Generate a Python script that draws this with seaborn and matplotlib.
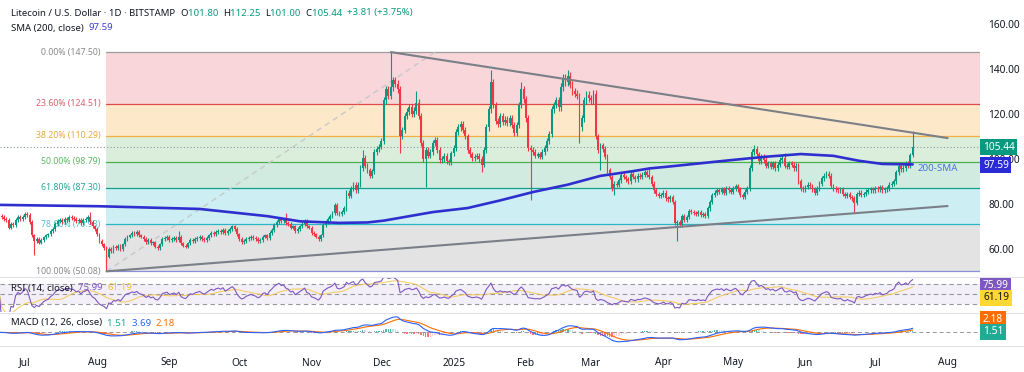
import numpy as np
import pandas as pd
import matplotlib
matplotlib.use("Agg")
import matplotlib.pyplot as plt
import seaborn as sns

sns.set_style("white")
plt.rcParams['font.family'] = ['Noto Sans', 'DejaVu Sans']

BASE = pd.Timestamp("2024-07-01")
DARK = "#131722"
UP = "#089981"
DOWN = "#f23645"

# daily closes, one list per month
jun24 = [74.5, 74.0, 73.5, 72.8, 69.5, 71.0, 70.6, 73.0, 74.0, 73.5, 74.2]
jul24 = [75.5, 75.0, 72.0, 66.0, 63.5, 64.5, 62.8, 64.0, 65.2, 66.0,
         66.5, 68.0, 69.0, 71.0, 72.5, 72.8, 72.0, 73.5, 73.0, 74.0,
         73.8, 73.5, 72.5, 73.0, 71.5, 72.8, 73.2, 74.0, 72.0, 70.0, 69.0]
aug24 = [66.5, 63.5, 62.0, 60.5, 56.5, 60.0, 59.0, 61.0, 60.5, 61.5,
         60.0, 62.0, 64.5, 65.5, 66.0, 67.0, 66.5, 67.5, 66.0, 65.5,
         64.5, 63.0, 64.0, 62.5, 63.0, 61.0, 60.5, 62.0, 64.5, 65.0, 65.5]
sep24 = [64.0, 64.5, 65.0, 64.0, 65.5, 62.5, 61.5, 61.0, 62.5, 64.0,
         63.5, 64.5, 65.0, 65.5, 64.5, 64.0, 65.0, 66.0, 67.0, 66.5,
         67.5, 68.0, 67.5, 68.5, 67.0, 68.0, 69.0, 70.0, 69.0, 66.5]
oct24 = [64.5, 63.0, 63.5, 64.5, 65.0, 65.5, 65.0, 64.5, 63.5, 64.0,
         65.5, 66.0, 65.0, 67.0, 68.5, 70.5, 72.0, 73.5, 72.5, 73.0,
         71.5, 71.0, 69.5, 70.0, 68.0, 69.0, 70.0, 71.0, 72.5, 70.0, 69.5]
nov24 = [67.0, 66.5, 65.5, 64.5, 66.0, 70.5, 72.0, 73.5, 74.5, 76.0,
         79.5, 76.0, 75.5, 76.5, 78.0, 85.0, 83.5, 87.0, 88.5, 86.0,
         88.5, 96.0, 100.5, 97.0, 95.0, 92.5, 94.5, 103.0, 104.5, 105.5]
dec24 = [108.0, 126.0, 131.0, 128.0, 132.0, 135.0, 133.5, 131.0, 110.0, 113.0,
         119.0, 121.0, 123.0, 120.0, 121.5, 125.0, 119.0, 107.0, 100.0, 104.0,
         101.5, 103.0, 107.0, 108.5, 104.0, 99.5, 100.0, 101.5, 99.0, 98.5, 102.5]
jan25 = [105.0, 112.0, 114.0, 115.5, 113.0, 110.0, 104.0, 102.0, 100.5, 101.0,
         101.5, 100.0, 97.5, 104.0, 114.0, 122.0, 134.0, 124.0, 117.0, 115.5,
         119.0, 116.5, 117.5, 116.0, 118.0, 115.0, 111.5, 115.0, 124.0, 131.0, 126.5]
feb25 = [118.0, 105.0, 104.0, 103.0, 101.5, 102.0, 101.0, 103.0, 105.0, 108.0,
         111.0, 122.0, 124.0, 126.0, 123.0, 132.0, 136.0, 134.0, 137.0, 133.0,
         130.0, 129.0, 128.0, 114.0, 118.0, 126.0, 128.5, 127.0]
mar25 = [126.0, 129.0, 110.0, 104.0, 106.0, 104.5, 101.0, 95.0, 92.0, 87.0,
         89.0, 88.5, 90.5, 93.0, 92.0, 91.0, 90.0, 93.5, 92.0, 91.0,
         92.5, 92.0, 93.0, 94.0, 93.0, 92.0, 89.0, 86.0, 84.5, 83.5, 84.0]
apr25 = [85.0, 82.5, 82.0, 83.0, 81.0, 71.5, 72.0, 70.5, 74.5, 73.0,
         74.0, 77.0, 76.5, 76.0, 75.5, 76.5, 75.0, 75.5, 74.5, 78.0,
         81.0, 84.0, 85.0, 86.0, 85.5, 86.5, 85.0, 87.0, 86.0, 85.5]
may25 = [87.0, 88.0, 86.5, 84.0, 83.0, 85.5, 87.0, 96.0, 103.0, 104.5,
         102.0, 99.0, 101.0, 99.5, 97.0, 98.0, 96.5, 98.0, 96.0, 97.5,
         99.5, 100.5, 97.0, 96.5, 98.0, 97.5, 96.0, 97.0, 90.0, 87.0, 86.5]
jun25 = [87.5, 88.5, 88.0, 86.5, 85.0, 87.0, 89.0, 91.5, 92.5, 93.5,
         92.5, 88.0, 87.0, 86.5, 86.0, 86.5, 84.5, 83.5, 84.5, 83.0,
         82.5, 80.5, 84.5, 85.0, 84.0, 84.5, 85.5, 86.0, 86.5, 86.0]
jul25 = [87.0, 86.5, 87.5, 86.0, 86.5, 87.0, 88.5, 89.0, 90.0, 94.0,
         97.0, 95.5, 96.0, 98.0, 97.0, 101.63, 105.44]

# long wicks visible on the chart
wick_high = {"2024-07-29": 76.4, "2024-09-05": 68.0, "2024-10-21": 76.0,
             "2024-11-23": 104.0, "2024-12-05": 147.5, "2024-12-16": 130.0,
             "2025-01-17": 139.6, "2025-01-30": 134.0, "2025-02-19": 139.5,
             "2025-03-26": 96.5, "2025-05-10": 106.0, "2025-05-23": 102.5,
             "2025-07-17": 112.25}
wick_low = {"2024-07-05": 57.3, "2024-08-05": 50.08, "2024-12-09": 102.7,
            "2024-12-20": 87.6, "2025-01-13": 94.0, "2025-02-03": 81.8,
            "2025-02-24": 107.0, "2025-03-05": 95.0, "2025-03-11": 84.0,
            "2025-04-07": 63.5, "2025-06-22": 76.0, "2025-07-17": 101.0}

# 200-day SMA
sma_dates = ["2024-06-20", "2024-08-02", "2024-09-14", "2024-10-13", "2024-10-27",
             "2024-11-13", "2024-11-25", "2024-12-02", "2024-12-23", "2025-01-07",
             "2025-01-21", "2025-02-04", "2025-02-19", "2025-03-05", "2025-03-19",
             "2025-03-26", "2025-04-03", "2025-05-01", "2025-05-15", "2025-05-30",
             "2025-06-13", "2025-06-24", "2025-07-04", "2025-07-17"]
sma_vals = [79.6, 79.0, 77.8, 74.6, 72.3, 71.6, 71.8, 72.6, 76.4, 78.2,
            81.6, 85.3, 88.6, 92.5, 94.6, 95.8, 96.6, 99.6, 101.0, 102.2,
            101.4, 99.2, 97.8, 97.59]

fib_ratio = ["0.00%", "23.60%", "38.20%", "50.00%", "61.80%", "78.60%", "100.00%"]
fib_price = [147.50, 124.51, 110.29, 98.79, 87.30, 70.93, 50.08]
fib_line = ["#9e9e9e", "#e04a4a", "#f5b041", "#4caf50", "#13a08a", "#29b6c6", "#8a8fd8"]
fib_text = ["#8a8a8a", "#d9606e", "#e8a93a", "#5cb860", "#26a69a", "#4cc3d0", "#8a8a8a"]
fib_fill = ["#f9d6d9", "#fde9ca", "#dbeedc", "#d1ebe1", "#cdeef2", "#e3e3e3"]

month_ticks = ["2024-07-01", "2024-08-01", "2024-09-01", "2024-10-01", "2024-11-01",
               "2024-12-01", "2025-01-01", "2025-02-01", "2025-03-01", "2025-04-01",
               "2025-05-01", "2025-06-01", "2025-07-01", "2025-08-01"]
month_labels = ["Jul", "Aug", "Sep", "Oct", "Nov", "Dec", "2025", "Feb", "Mar",
                "Apr", "May", "Jun", "Jul", "Aug"]


def day(s):
    return (pd.Timestamp(s) - BASE).days


months = [("2024-06-20", jun24), ("2024-07-01", jul24), ("2024-08-01", aug24),
          ("2024-09-01", sep24), ("2024-10-01", oct24), ("2024-11-01", nov24),
          ("2024-12-01", dec24), ("2025-01-01", jan25), ("2025-02-01", feb25),
          ("2025-03-01", mar25), ("2025-04-01", apr25), ("2025-05-01", may25),
          ("2025-06-01", jun25), ("2025-07-01", jul25)]
dates, closes = [], []
for start, vals in months:
    dates += list(pd.date_range(start, periods=len(vals)))
    closes += vals

df = pd.DataFrame({"date": dates, "close": closes})
df["d"] = (df["date"] - BASE).dt.days
df["open"] = df["close"].shift(1).fillna(df["close"].iloc[0] + 0.6)
df.loc[df.index[-1], "open"] = 101.80
top = np.maximum(df["open"], df["close"])
bot = np.minimum(df["open"], df["close"])
df["high"] = top * 1.012
df["low"] = bot * 0.988
for k, v in wick_high.items():
    df.loc[df["date"] == pd.Timestamp(k), "high"] = v
for k, v in wick_low.items():
    df.loc[df["date"] == pd.Timestamp(k), "low"] = v

# indicators
delta = df["close"].diff().fillna(0)
gain = delta.clip(lower=0).ewm(alpha=1 / 14, adjust=False).mean()
loss = (-delta.clip(upper=0)).ewm(alpha=1 / 14, adjust=False).mean()
df["rsi"] = 100 - 100 / (1 + gain / loss.replace(0, np.nan))
df["rsi"] = df["rsi"].fillna(50)
df["rsi_ma"] = df["rsi"].rolling(14, min_periods=1).mean()
ema12 = df["close"].ewm(span=12, adjust=False).mean()
ema26 = df["close"].ewm(span=26, adjust=False).mean()
df["macd"] = ema12 - ema26
df["signal"] = df["macd"].ewm(span=9, adjust=False).mean()
df["hist"] = df["macd"] - df["signal"]

W, H = 1024, 372
fig = plt.figure(figsize=(W / 100, H / 100), dpi=100)
ax_p = fig.add_axes([0, 1 - 276 / H, 980 / W, 268 / H])
ax_r = fig.add_axes([0, 1 - 312 / H, 980 / W, 35 / H])
ax_m = fig.add_axes([0, 1 - 345 / H, 980 / W, 32 / H])

XMIN, XMAX = -10.7, 409.9
for ax in (ax_p, ax_r, ax_m):
    ax.set_xlim(XMIN, XMAX)
    for s in ax.spines.values():
        s.set_visible(False)
    ax.set_xticks([])
    ax.set_facecolor("white")

# --- price pane ---
ax_p.set_ylim(48, 167.1)
fib_x0 = day("2024-08-05")
for i in range(6):
    ax_p.fill_between([fib_x0, XMAX], fib_price[i + 1], fib_price[i], color=fib_fill[i], lw=0, zorder=0)
for i in range(7):
    ax_p.plot([fib_x0, XMAX], [fib_price[i]] * 2, color=fib_line[i], lw=0.9, zorder=1)
    ax_p.text(fib_x0 - 2.6, fib_price[i], f"{fib_ratio[i]} ({fib_price[i]:.2f})",
              color=fib_text[i], fontsize=6.3, ha="right", va="center", zorder=1)
ax_p.plot([fib_x0, day("2024-12-24")], [50.08, 147.5], color="#c8c8c8", lw=1.0, ls=(0, (4, 3)), zorder=1)

ax_p.axhline(105.44, color="#8a9aa0", lw=0.8, ls=(0, (1, 2)), zorder=1)

colors = np.where(df["close"] >= df["open"], UP, DOWN)
ax_p.vlines(df["d"], df["low"], df["high"], colors=colors, lw=0.8, zorder=3)
ax_p.bar(df["d"], np.maximum(top - bot, 0.3), bottom=bot, width=0.8, color=colors, lw=0, zorder=3)

sma_df = pd.DataFrame({"d": [day(s) for s in sma_dates], "sma": sma_vals})
sns.lineplot(data=sma_df, x="d", y="sma", ax=ax_p, color="#2f2fd0", lw=1.9, zorder=4)
ax_p.text(day("2025-07-19"), 95.6, "200-SMA", color="#4a72db", fontsize=7, va="center", zorder=5)

ax_p.plot([day("2024-12-05"), day("2025-08-01")], [147.5, 109.3], color="#7b7f88", lw=1.5, zorder=4)
ax_p.plot([fib_x0, day("2025-08-01")], [50.08, 79.1], color="#7b7f88", lw=1.5, zorder=4)

ax_p.yaxis.tick_right()
ax_p.set_yticks([60, 80, 100, 120, 140, 160])
ax_p.set_yticklabels([f"{v:.2f}" for v in [60, 80, 100, 120, 140, 160]])
ax_p.tick_params(axis="y", length=0, pad=6, labelsize=7.3, labelcolor=DARK)
ax_p.set_xlabel("")
ax_p.set_ylabel("")

# --- RSI pane ---
ax_r.set_ylim(14, 84)
ax_r.axhspan(30, 70, color="#7e57c2", alpha=0.09, lw=0)
for lvl in (70, 50, 30):
    ax_r.axhline(lvl, color="#9598a1", lw=0.8, ls=(0, (4, 3)))
sns.lineplot(data=df, x="d", y="rsi_ma", ax=ax_r, color="#f4c542", lw=0.8, alpha=0.8)
sns.lineplot(data=df, x="d", y="rsi", ax=ax_r, color="#7e57c2", lw=0.8)
ax_r.set_yticks([])
ax_r.set_xlabel("")
ax_r.set_ylabel("")

# --- MACD pane ---
mtop = df["macd"].max() * 20 / 16
ax_m.set_ylim(-mtop * 13 / 20, mtop)
ax_m.axhline(0, color="#9598a1", lw=0.7, ls=(0, (4, 3)))
hist = df["hist"].values
prev = np.r_[0, hist[:-1]]
hcol = np.where(hist >= 0, np.where(hist >= prev, "#26a69a", "#b2dfdb"),
                np.where(hist < prev, "#ff5252", "#ffcdd2"))
ax_m.bar(df["d"], hist, width=0.6, color=hcol, lw=0, alpha=0.8)
sns.lineplot(data=df, x="d", y="signal", ax=ax_m, color="#ff6d00", lw=0.8)
sns.lineplot(data=df, x="d", y="macd", ax=ax_m, color="#2962ff", lw=0.8)
ax_m.set_yticks([])
ax_m.set_ylabel("")
ax_m.set_xticks([day(s) for s in month_ticks])
ax_m.set_xticklabels(month_labels)
ax_m.tick_params(axis="x", length=0, pad=9, labelsize=7.3, labelcolor=DARK)
for lab in ax_m.get_xticklabels():
    if lab.get_text() == "2025":
        lab.set_fontweight("bold")
ax_m.set_xlabel("")

# pane separators
for y in (276.5, 312.5, 346):
    fig.add_artist(plt.Line2D([0, 1], [1 - y / H] * 2, color="#e0e3eb", lw=0.8))

# legend texts
renderer = fig.canvas.get_renderer()


def seq_text(x, y, parts, size=6.9):
    for s, c in parts:
        t = fig.text(x / W, 1 - y / H, s, color=c, fontsize=size, va="center", ha="left")
        x += t.get_window_extent(renderer=renderer).width


seq_text(11, 13, [("Litecoin / U.S. Dollar · 1D · BITSTAMP  ", DARK), ("O", DARK), ("101.80  ", UP),
                  ("H", DARK), ("112.25  ", UP), ("L", DARK), ("101.00  ", UP),
                  ("C", DARK), ("105.44  ", UP), ("+3.81 (+3.75%)", UP)])
seq_text(11, 28, [("SMA (200, close)  ", DARK), ("97.59", "#3d3dcc")])
seq_text(11, 288, [("RSI (14, close)  ", DARK), ("75.99  ", "#7e57c2"), ("61.19", "#f2c230")])
seq_text(11, 323, [("MACD (12, 26, close)  ", DARK), ("1.51  ", "#26a69a"), ("3.69  ", "#2962ff"),
                   ("2.18", "#ff6d00")])

# last-value boxes on the right scale
boxes = [(147, "105.44", UP, "white"), (165, "97.59", "#2b2bd6", "white"),
         (286, "75.99", "#7e57c2", "white"), (298, "61.19", "#fdd835", DARK),
         (319, "2.18", "#ff6d00", "white"), (332, "1.51", "#22ab94", "white")]
for y, s, bg, fg in boxes:
    fig.text(983 / W, 1 - y / H, s, color=fg, fontsize=7.3, va="center", ha="left",
             bbox=dict(boxstyle="square,pad=0.25", fc=bg, ec="none"))

fig.savefig("out.png", dpi=100, facecolor="white")
